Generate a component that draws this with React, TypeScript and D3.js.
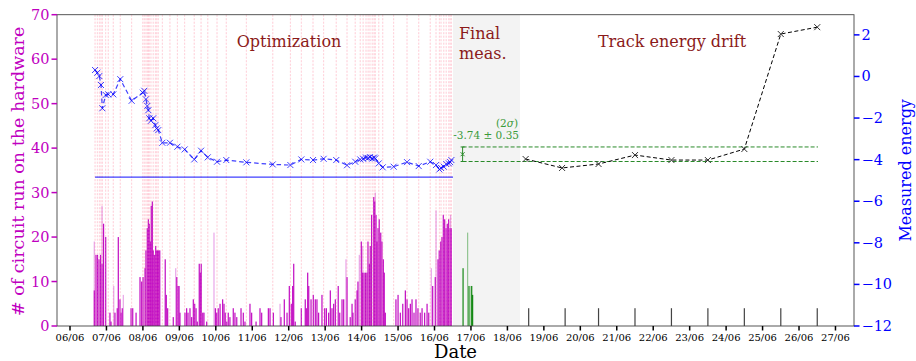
import React from 'react';
import * as d3 from 'd3';

// hours since 06/06 00:00
const optHours = [16.5, 18.0, 19.3, 20.4, 21.3, 23.5, 25.2, 28.5, 33.1, 40.6, 47.9, 48.9, 50.0, 50.9, 51.6, 52.2, 53.3, 54.8, 56.2, 57.1, 58.1, 60.8, 65.8, 70.7, 75.5, 81.8, 86.3, 90.7, 96.8, 102.9, 116.1, 133.5, 145.1, 152.3, 160.0, 167.0, 175.3, 182.4, 187.8, 191.1, 193.0, 194.9, 196.3, 197.5, 199.0, 200.2, 201.0, 203.3, 205.9, 213.1, 221.9, 229.6, 237.2, 241.0, 243.2, 244.3, 246.1, 247.7, 249.4, 250.3, 251.1];
const optEnergy = [0.31, 0.18, 0.02, -0.41, -1.53, -0.89, -0.86, -0.86, -0.13, -1.17, -0.78, -0.69, -1.10, -1.42, -1.62, -2.01, -2.13, -2.01, -2.34, -2.50, -2.58, -3.19, -3.19, -3.38, -3.51, -3.99, -3.57, -3.89, -4.10, -4.02, -4.13, -4.23, -4.26, -3.99, -4.02, -3.96, -4.02, -4.27, -4.10, -3.99, -3.96, -3.90, -3.92, -3.88, -3.95, -3.90, -3.94, -4.18, -4.37, -4.34, -4.12, -4.31, -4.10, -4.26, -4.47, -4.40, -4.34, -4.21, -4.18, -4.12, -4.02];

const exactEnergy = -4.84;

const barHours = [16.0, 17.1, 18.1, 19.1, 20.1, 21.1, 22.1, 23.5, 26.3, 27.0, 29.6, 31.1, 31.8, 32.9, 33.6, 34.4, 40.2, 41.3, 43.5, 46.1, 47.2, 48.1, 49.4, 50.0, 50.9, 51.6, 52.2, 52.9, 53.5, 54.2, 54.8, 55.5, 56.4, 57.1, 57.7, 58.4, 59.1, 62.7, 63.4, 64.3, 68.0, 70.3, 71.1, 71.8, 72.4, 75.7, 76.8, 77.7, 79.0, 80.1, 81.2, 82.1, 83.0, 83.8, 85.1, 85.8, 86.4, 87.4, 88.2, 90.0, 95.7, 96.6, 97.6, 98.8, 100.5, 101.4, 102.2, 103.2, 104.2, 105.3, 107.5, 108.6, 109.8, 112.6, 114.1, 115.2, 118.5, 119.6, 122.5, 125.1, 126.2, 130.6, 131.7, 133.9, 138.9, 141.1, 142.9, 144.4, 145.7, 146.6, 147.3, 148.3, 152.3, 154.9, 155.6, 156.5, 157.2, 158.7, 160.2, 161.5, 162.6, 163.7, 165.9, 167.7, 168.8, 170.3, 171.4, 172.5, 173.6, 174.7, 176.6, 177.6, 179.1, 180.2, 182.4, 184.5, 185.7, 186.3, 187.8, 189.0, 189.6, 191.8, 192.7, 193.6, 194.6, 195.5, 196.2, 197.1, 197.7, 198.6, 200.0, 200.6, 201.5, 202.1, 202.8, 203.6, 204.6, 205.4, 206.3, 206.9, 207.6, 214.6, 216.0, 217.5, 219.1, 220.8, 221.9, 223.0, 224.1, 225.2, 226.5, 227.8, 229.1, 230.6, 231.8, 233.5, 235.1, 236.2, 238.8, 240.5, 242.3, 243.1, 244.1, 244.9, 245.8, 246.7, 247.6, 248.4, 249.3, 250.2, 251.0];
const barCounts = [8, 16, 16, 15, 16, 14, 23, 20, 3, 1, 3, 4, 20, 6, 3, 4, 4, 4, 3, 11, 10, 11, 13, 17, 22, 24, 23, 19, 27, 28, 17, 16, 18, 17, 17, 17, 17, 15, 7, 4, 2, 11, 9, 9, 3, 3, 4, 3, 4, 2, 6, 5, 4, 1, 14, 12, 14, 3, 3, 1, 4, 3, 4, 5, 6, 5, 3, 1, 3, 2, 4, 3, 2, 4, 3, 1, 5, 3, 1, 4, 3, 4, 4, 3, 2, 6, 3, 9, 5, 9, 14, 1, 4, 6, 4, 12, 9, 6, 7, 6, 6, 3, 7, 4, 4, 3, 8, 4, 5, 6, 9, 3, 6, 6, 11, 2, 5, 3, 6, 8, 10, 19, 12, 12, 12, 12, 19, 14, 18, 25, 29, 28, 25, 19, 22, 24, 21, 19, 15, 12, 3, 6, 7, 3, 5, 8, 6, 4, 5, 6, 3, 6, 4, 3, 4, 3, 5, 3, 9, 11, 15, 17, 19, 20, 25, 24, 22, 23, 24, 22, 22];
const lightHours = [16.0, 21.1, 28.8, 35.1, 69.6, 94.8, 138.3, 181.7, 190.5, 192.7, 237.9, 241.0, 201.0, 250.6];
const lightCounts = [19, 27, 9, 7, 13, 21, 5, 15, 16, 18, 13, 26, 30, 25];

const finalHours = [258.8, 262.7, 264.5, 265.1];
const finalCounts = [13, 9, 9, 7];
const finalLightHours = [261.8, 264.0];
const finalLightCounts = [21, 9];
const finalEnergy = -3.74;
const finalErr = 0.35;
const finalAt = 258.5;

const trackHours = [300, 324, 348, 372, 396, 420, 444, 468, 492];
const trackEnergy = [-3.97, -4.40, -4.21, -3.78, -4.02, -4.02, -3.49, 2.04, 2.37];
const trackBarHours = [302, 326, 348, 372, 396, 420, 444, 468, 492];
const trackBarCounts = [4, 4, 4, 4, 4, 4, 4, 4, 4];

const leftTicks = [0, 10, 20, 30, 40, 50, 60, 70];
const rightTicks = [-12, -10, -8, -6, -4, -2, 0, 2];
const dayLabels = ['06/06', '07/06', '08/06', '09/06', '10/06', '11/06', '12/06', '13/06', '14/06', '15/06', '16/06', '17/06', '18/06', '19/06', '20/06', '21/06', '22/06', '23/06', '24/06', '25/06', '26/06', '27/06'];

const W = 916, H = 361;
const L = 57, R = 854, T = 14.7, B = 326;
const FONT = 'DejaVu Serif';
const MAG = '#bf00bf';
const GREEN = '#2a8a2a';

function Cross({ x, y, color, s = 3 }: { x: number; y: number; color: string; s?: number }) {
  return (
    <g stroke={color} strokeWidth={1}>
      <line x1={x - s} y1={y - s} x2={x + s} y2={y + s} />
      <line x1={x - s} y1={y + s} x2={x + s} y2={y - s} />
    </g>
  );
}

export default function App() {
  const x = d3.scaleLinear().domain([-8.56, 516.2]).range([L, R]);
  const yL = d3.scaleLinear().domain([0, 70]).range([B, T]);
  const yR = d3.scaleLinear().domain([-12, 2.97]).range([B, T]);
  const bw = x(0.8) - x(0);

  const optLine = d3.line<number>().x((_, i) => x(optHours[i])).y(d => yR(d))(optEnergy) || '';
  const trackLine = d3.line<number>().x((_, i) => x(trackHours[i])).y(d => yR(d))(trackEnergy) || '';

  return (
    <div style={{ position: 'absolute', left: 0, top: 0 }}>
      <svg width={W} height={H} style={{ display: 'block', fontFamily: FONT }}>
        <rect x={0} y={0} width={W} height={H} fill="#fff" />
        {/* final measurement shade */}
        <rect x={x(252.2)} y={T} width={x(296.3) - x(252.2)} height={B - T} fill="#f3f3f3" />

        {/* optimisation step markers */}
        {optHours.map((h, i) => (
          <line key={'p' + i} x1={x(h)} x2={x(h)} y1={T} y2={B} stroke="#ffb0c0" strokeWidth={0.9} strokeDasharray="2,1.5" opacity={0.6} />
        ))}

        {/* light bars */}
        {lightHours.map((h, i) => (
          <rect key={'l' + i} x={x(h) - bw / 2} y={yL(lightCounts[i])} width={bw} height={B - yL(lightCounts[i])} fill={MAG} opacity={0.35} />
        ))}
        {barHours.map((h, i) => (
          <rect key={'b' + i} x={x(h) - bw / 2} y={yL(barCounts[i])} width={bw} height={B - yL(barCounts[i])} fill={MAG} opacity={0.95} />
        ))}
        {/* texture of step markers on the bars */}
        {optHours.map((h, i) => (
          <line key={'q' + i} x1={x(h)} x2={x(h)} y1={T} y2={B} stroke="#ffc0d0" strokeWidth={0.6} strokeDasharray="2,1.5" opacity={0.35} />
        ))}
        {finalLightHours.map((h, i) => (
          <rect key={'fl' + i} x={x(h) - bw / 2} y={yL(finalLightCounts[i])} width={bw} height={B - yL(finalLightCounts[i])} fill="#008000" opacity={0.4} />
        ))}
        {finalHours.map((h, i) => (
          <rect key={'f' + i} x={x(h) - bw / 2} y={yL(finalCounts[i])} width={bw} height={B - yL(finalCounts[i])} fill="#008000" opacity={0.9} />
        ))}
        {trackBarHours.map((h, i) => (
          <rect key={'t' + i} x={x(h) - 0.6} y={yL(trackBarCounts[i])} width={1.2} height={B - yL(trackBarCounts[i])} fill="#222" opacity={0.85} />
        ))}

        {/* exact energy */}
        <line x1={x(optHours[0])} x2={x(252.2)} y1={yR(exactEnergy)} y2={yR(exactEnergy)} stroke="blue" strokeWidth={1.2} opacity={0.75} />

        {/* optimisation curve */}
        <path d={optLine} fill="none" stroke="blue" strokeWidth={1.2} strokeDasharray="4.5,3" opacity={0.75} />
        {optHours.map((h, i) => (
          <Cross key={'c' + i} x={x(h)} y={yR(optEnergy[i])} color="rgba(0,0,255,0.75)" />
        ))}

        {/* final measurement band */}
        {[finalEnergy + finalErr, finalEnergy - finalErr].map((e, i) => (
          <line key={'g' + i} x1={x(finalAt)} x2={x(492.5)} y1={yR(e)} y2={yR(e)} stroke={GREEN} strokeWidth={1} strokeDasharray="4,2" />
        ))}
        <g stroke={GREEN} strokeWidth={1}>
          <line x1={x(finalAt)} x2={x(finalAt)} y1={yR(finalEnergy + finalErr)} y2={yR(finalEnergy - finalErr)} />
          <line x1={x(finalAt) - 2} x2={x(finalAt) + 2} y1={yR(finalEnergy + finalErr)} y2={yR(finalEnergy + finalErr)} />
          <line x1={x(finalAt) - 2} x2={x(finalAt) + 2} y1={yR(finalEnergy - finalErr)} y2={yR(finalEnergy - finalErr)} />
        </g>
        <Cross x={x(finalAt)} y={yR(finalEnergy)} color={GREEN} s={2} />
        <text x={518} y={127} fontSize={10.5} fill="#3a9a3a" textAnchor="end">(2<tspan fontStyle="italic">σ</tspan>)</text>
        <text x={519} y={139} fontSize={10.5} fill="#3a9a3a" textAnchor="end">{`-3.74 ± 0.35`}</text>

        {/* energy drift */}
        <path d={trackLine} fill="none" stroke="#000" strokeWidth={1} strokeDasharray="4,2.5" />
        {trackHours.map((h, i) => (
          <Cross key={'k' + i} x={x(h)} y={yR(trackEnergy[i])} color="#333" />
        ))}

        {/* section titles */}
        <text x={289} y={47} fontSize={16} fill="#8b1a1a" textAnchor="middle">Optimization</text>
        <text x={459} y={39} fontSize={16} fill="#8b1a1a">Final</text>
        <text x={459} y={59} fontSize={16} fill="#8b1a1a">meas.</text>
        <text x={672} y={47} fontSize={16} fill="#8b1a1a" textAnchor="middle">Track energy drift</text>

        {/* frame */}
        <rect x={L} y={T} width={R - L} height={B - T} fill="none" stroke="#444" strokeWidth={0.9} />

        {/* x axis */}
        {dayLabels.map((lab, i) => (
          <g key={'x' + i}>
            <line x1={x(i * 24)} x2={x(i * 24)} y1={B} y2={B + 4.5} stroke="#000" strokeWidth={1.5} />
            <text x={x(i * 24)} y={341} fontSize={10} textAnchor="middle" fill="#000">{lab}</text>
          </g>
        ))}
        <text x={(L + R) / 2} y={358} fontSize={18} textAnchor="middle" fill="#000">Date</text>

        {/* left axis */}
        {leftTicks.map(t => (
          <g key={'yl' + t}>
            <line x1={L - 5.5} x2={L} y1={yL(t)} y2={yL(t)} stroke={MAG} strokeWidth={1.5} />
            <text x={L - 7.5} y={yL(t) + 5} fontSize={14.5} textAnchor="end" fill={MAG}>{t}</text>
          </g>
        ))}
        <text transform={`translate(24,${(T + B) / 2 + 1}) rotate(-90)`} fontSize={17.5} textAnchor="middle" fill={MAG}># of circuit run on the hardware</text>

        {/* right axis */}
        {rightTicks.map(t => (
          <g key={'yr' + t}>
            <line x1={R} x2={R + 5.5} y1={yR(t)} y2={yR(t)} stroke="blue" strokeWidth={1.5} />
            <text x={R + 7.5} y={yR(t) + 5} fontSize={14.5} fill="blue">{t < 0 ? '\u2212' + Math.abs(t) : t}</text>
          </g>
        ))}
        <text transform={`translate(911,${(T + B) / 2}) rotate(-90)`} fontSize={16} textAnchor="middle" fill="blue">Measured energy</text>
      </svg>
    </div>
  );
}
